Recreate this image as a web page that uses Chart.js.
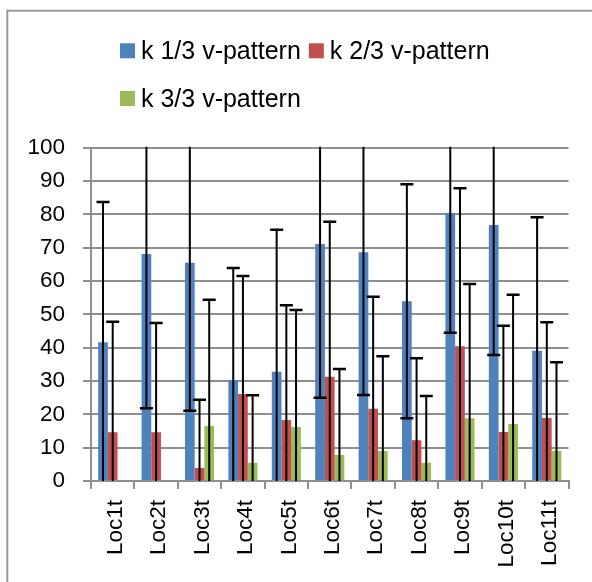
<!DOCTYPE html>
<html>
<head>
<meta charset="utf-8">
<script src="https://cdn.jsdelivr.net/npm/chart.js@4/dist/chart.umd.min.js"></script>
<style>
  html, body { margin: 0; padding: 0; background: #fff; overflow: hidden; }
  #wrap { position: relative; width: 592px; height: 582px; }
  canvas { display: block; }
</style>
</head>
<body>
<div id="wrap"><canvas id="chart" width="592" height="582"></canvas></div>
<script>
// Locations along the x axis
const locations = ['Loc1t', 'Loc2t', 'Loc3t', 'Loc4t', 'Loc5t', 'Loc6t', 'Loc7t', 'Loc8t', 'Loc9t', 'Loc10t', 'Loc11t'];

// Series labels
const seriesNames = ['k 1/3 v-pattern', 'k 2/3 v-pattern', 'k 3/3 v-pattern'];

// Mean values per location
const k1Values = [41.6, 68.1, 65.5, 30.3, 32.8, 71.1, 68.6, 53.9, 80.4, 76.8, 39.1];
const k2Values = [14.6, 14.6, 3.9, 26.1, 18.3, 31.3, 21.7, 12.2, 40.4, 14.7, 18.9];
const k3Values = [null, null, 16.5, 5.5, 16.2, 7.8, 9.0, 5.5, 18.8, 17.1, 9.1];

// Symmetric error amounts (+/-) per location
const k1Errors = [42.1, 46.3, 44.4, 33.6, 42.6, 46.1, 42.8, 35.1, 35.9, 39.0, 40.0];
const k2Errors = [33.2, 32.8, 20.5, 35.4, 34.4, 46.5, 33.6, 24.6, 47.4, 31.9, 28.7];
const k3Errors = [null, null, 37.9, 20.2, 35.1, 25.8, 28.4, 20.0, 40.3, 38.8, 26.5];

// Value axis range
const yMin = 0, yMax = 100, yStep = 10;

const FONT = '"Liberation Sans", Arial, sans-serif';
const GRID = '#8f8f8f';

// Outer frame of the chart
const framePlugin = {
  id: 'frame',
  beforeDraw(chart) {
    const ctx = chart.ctx;
    ctx.save();
    ctx.strokeStyle = '#9a9a9a';
    ctx.lineWidth = 2;
    ctx.strokeRect(7.3, 10.7, 800, 800);
    ctx.restore();
  }
};

// Vertical error bars with caps, clipped to the plot area
const errorBarPlugin = {
  id: 'errorBars',
  afterDatasetsDraw(chart) {
    const ctx = chart.ctx;
    const area = chart.chartArea;
    const y = chart.scales.y;
    ctx.save();
    ctx.beginPath();
    ctx.rect(area.left, area.top - 1, area.right - area.left, area.bottom - area.top + 1);
    ctx.clip();
    ctx.strokeStyle = '#000';
    chart.data.datasets.forEach((ds, i) => {
      const meta = chart.getDatasetMeta(i);
      meta.data.forEach((bar, j) => {
        const v = ds.data[j];
        const e = ds.errors[j];
        if (v == null || e == null) return;
        const x = bar.x;
        const yHi = y.getPixelForValue(v + e);
        const yLo = y.getPixelForValue(v - e);
        const half = 6.5;
        ctx.lineWidth = 2;
        ctx.beginPath();
        ctx.moveTo(x, yHi);
        ctx.lineTo(x, yLo);
        ctx.stroke();
        ctx.lineWidth = 2.5;
        ctx.beginPath();
        ctx.moveTo(x - half, yHi);
        ctx.lineTo(x + half, yHi);
        ctx.moveTo(x - half, yLo);
        ctx.lineTo(x + half, yLo);
        ctx.stroke();
      });
    });
    ctx.restore();
  }
};

// Legend with square swatches, wrapping into rows
const legendPlugin = {
  id: 'squareLegend',
  afterDraw(chart, args, opts) {
    const ctx = chart.ctx;
    ctx.save();
    ctx.font = opts.font;
    ctx.textBaseline = 'alphabetic';
    let x = opts.left;
    let rowTop = opts.top;
    chart.data.datasets.forEach((ds) => {
      const tw = ctx.measureText(ds.label).width;
      const w = opts.box + opts.gap + tw;
      if (x > opts.left && x + w > opts.right) {
        x = opts.left;
        rowTop += opts.rowHeight;
      }
      ctx.fillStyle = ds.backgroundColor;
      ctx.fillRect(x, rowTop, opts.box, opts.box);
      ctx.fillStyle = '#000';
      ctx.fillText(ds.label, x + opts.box + opts.gap, rowTop + opts.baseline);
      x += w + opts.spacing;
    });
    ctx.restore();
  }
};

new Chart(document.getElementById('chart'), {
  type: 'bar',
  data: {
    labels: locations,
    datasets: [
      { label: seriesNames[0], data: k1Values, errors: k1Errors, backgroundColor: '#4F81BD' },
      { label: seriesNames[1], data: k2Values, errors: k2Errors, backgroundColor: '#C0504D' },
      { label: seriesNames[2], data: k3Values, errors: k3Errors, backgroundColor: '#9BBB59' }
    ]
  },
  options: {
    responsive: false,
    animation: false,
    devicePixelRatio: 1,
    layout: { padding: { top: 147.7, right: 23.5, left: 0, bottom: 0 } },
    datasets: {
      bar: { categoryPercentage: 0.67, barPercentage: 1.0, borderWidth: 0 }
    },
    plugins: {
      legend: { display: false },
      tooltip: { enabled: false },
      squareLegend: {
        font: '25px ' + FONT,
        left: 120,
        top: 43.3,
        right: 560,
        box: 15,
        gap: 6,
        spacing: 8,
        rowHeight: 47.7,
        baseline: 15.5
      }
    },
    scales: {
      x: {
        offset: true,
        grid: {
          display: true,
          drawOnChartArea: false,
          drawTicks: true,
          tickLength: 8,
          color: GRID,
          lineWidth: 2,
          offset: true
        },
        border: { display: true, color: GRID, width: 2 },
        ticks: {
          minRotation: 90,
          maxRotation: 90,
          padding: 11,
          labelOffset: 3,
          color: '#000',
          font: { family: FONT, size: 22.5 }
        },
        afterFit(scale) { scale.height = 101; }
      },
      y: {
        min: yMin,
        max: yMax,
        grid: {
          color: GRID,
          lineWidth: 2,
          drawTicks: true,
          tickLength: 8
        },
        border: { display: true, color: GRID, width: 2 },
        ticks: {
          stepSize: yStep,
          padding: 18,
          color: '#000',
          font: { family: FONT, size: 22.5 }
        },
        afterFit(scale) { scale.width = 91; }
      }
    }
  },
  plugins: [framePlugin, errorBarPlugin, legendPlugin]
});
</script>
</body>
</html>
